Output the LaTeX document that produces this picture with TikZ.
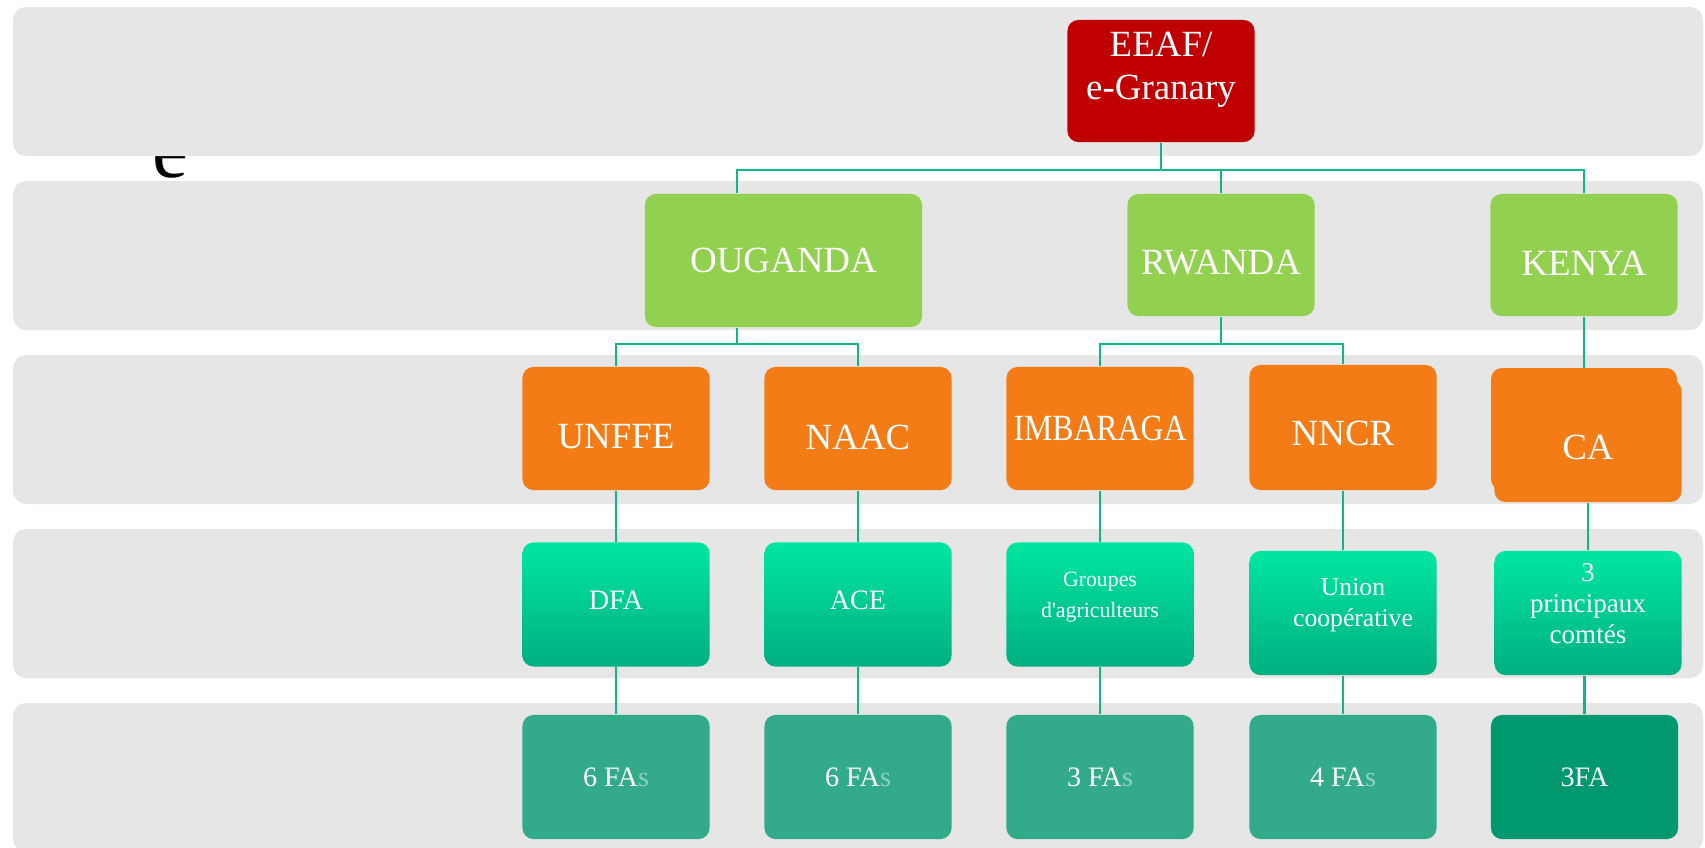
\documentclass[tikz,border=0pt]{standalone}
\usepackage{fontspec}
\setmainfont{Liberation Serif}
\usepackage{graphicx}
\usepackage{tikz}
\definecolor{bandgray}{HTML}{E6E6E6}
\definecolor{eeafred}{HTML}{C00000}
\definecolor{paysgreen}{HTML}{92D050}
\definecolor{orgorange}{HTML}{F37C16}
\definecolor{gradtop}{HTML}{00E6A1}
\definecolor{gradbot}{HTML}{00AF80}
\definecolor{fateal}{HTML}{33AA8A}
\definecolor{fadark}{HTML}{00996F}
\definecolor{linkteal}{HTML}{12B48C}
\definecolor{faslight}{HTML}{8ED3C0}
\newcommand{\lift}[2]{\raisebox{#1}[\height][\depth]{#2}}
\newcommand{\boxlines}[1]{\begin{tabular}{@{}c@{}}#1\end{tabular}}

\begin{document}
\begin{tikzpicture}[x=0.01cm,y=-0.01cm,
    box/.style={rounded corners=0.11cm,inner sep=0pt,minimum width=1.87cm,minimum height=1.23cm,text=white},
    big/.style={font=\fontsize{10.5}{12.2}\selectfont},
    small/.style={font=\fontsize{8}{9.4}\selectfont},
    grad/.style={box,top color=gradtop,bottom color=gradbot,minimum height=1.24cm},
    fa/.style={box,fill=fateal,small,minimum height=1.24cm},
    link/.style={draw=linkteal,line width=0.6pt}]
    \clip (0,0) rectangle (1705,847);
    \node[font=\fontsize{23}{23}\selectfont,anchor=base] (estray) at (170,177) {e};
    \foreach \y in {7,181,355,529,703}
      \fill[bandgray,rounded corners=0.13cm] (13,\y) rectangle (1703,\y+149);
    % top and countries
    \node[box,fill=eeafred,big,minimum height=1.22cm] (EEAF) at (1161,81) {\lift{0.12cm}{\boxlines{EEAF/\\e-Granary}}};
    \node[box,fill=paysgreen,big,minimum width=2.77cm,minimum height=1.33cm] (OUG) at (783.5,260.5) {OUGANDA};
    \node[box,fill=paysgreen,big,minimum height=1.22cm] (RWA) at (1221,255) {\lift{-0.08cm}{RWANDA}};
    \node[box,fill=paysgreen,big,minimum height=1.22cm] (KEN) at (1584,255) {\lift{-0.08cm}{KENYA}};
    % organisations
    \node[box,fill=orgorange,big] (UNFFE) at (616,428.5) {\lift{-0.085cm}{UNFFE}};
    \node[box,fill=orgorange,big] (NAAC) at (858,428.5) {\lift{-0.085cm}{NAAC}};
    \node[box,fill=orgorange,big] (IMB) at (1100,428.5) {\scalebox{0.86}[1]{IMBARAGA}};
    \node[box,fill=orgorange,big,minimum height=1.25cm] (NNCR) at (1343,427.5) {\lift{-0.055cm}{NNCR}};
    \fill[orgorange,rounded corners=0.11cm] (1491,368) rectangle (1677,490);
    \node[box,fill=orgorange,big,minimum height=1.22cm] (CA) at (1588,441) {\lift{-0.06cm}{CA}};
%    \node[box,fill=orgorange,big] (CA) at (1584,429) {CA};
    % structures
    \node[grad,small] (DFA) at (616,604.5) {\lift{0.04cm}{DFA}};
    \node[grad,small] (ACE) at (858,604.5) {\lift{0.04cm}{ACE}};
    \node[grad,font=\fontsize{6.2}{8.8}\selectfont] (GRP) at (1100,604.5) {\lift{0.09cm}{\boxlines{Groupes\\d\textquotesingle agriculteurs}}\hspace{0.1cm}};
    \node[grad,font=\fontsize{7.3}{8.8}\selectfont] (UNI) at (1343,613) {\hspace{0.2cm}\lift{0.08cm}{\boxlines{Union\\coopérative}}};
    \node[grad,font=\fontsize{7.7}{8.8}\selectfont] (PRI) at (1588,613) {\lift{0.07cm}{\boxlines{3\\principaux\\comtés}}};
    % FAs
    \node[fa] (FA1) at (616,777) {6 FA{\color{faslight}s}};
    \node[fa] (FA2) at (858,777) {6 FA{\color{faslight}s}};
    \node[fa] (FA3) at (1100,777) {3 FA{\color{faslight}s}};
    \node[fa] (FA4) at (1343,777) {4 FA{\color{faslight}s}};
    \node[fa,fill=fadark] (FA5) at (1584.5,777) {3FA};
    % links
    \draw[link] (EEAF.south) -- ++(0,27) coordinate (bus1);
    \draw[link] (bus1) -| ([xshift=-0.465cm]OUG.north);
    \draw[link] (bus1) -| (RWA.north);
    \draw[link] (bus1) -| (KEN.north);
    \draw[link] ([xshift=-0.465cm]OUG.south) -- ++(0,16) coordinate (bus2);
    \draw[link] (bus2) -| (UNFFE.north);
    \draw[link] (bus2) -| (NAAC.north);
    \draw[link] (RWA.south) -- ++(0,27) coordinate (bus3);
    \draw[link] (bus3) -| (IMB.north);
    \draw[link] (bus3) -| (NNCR.north);
    \coordinate (CAtop) at (1584,368);
    \draw[link] (KEN.south) -- (CAtop);
    \draw[link] (UNFFE.south) -- (DFA.north);
    \draw[link] (NAAC.south) -- (ACE.north);
    \draw[link] (IMB.south) -- (GRP.north);
    \draw[link] (NNCR.south) -- (UNI.north);
    \draw[link] (CA.south) -- (PRI.north);
    \draw[link] (DFA.south) -- (FA1.north);
    \draw[link] (ACE.south) -- (FA2.north);
    \draw[link] (GRP.south) -- (FA3.north);
    \draw[link] (UNI.south) -- (FA4.north);
    \draw[link] (FA5.north |- PRI.south) -- (FA5.north);
\end{tikzpicture}
\end{document}
